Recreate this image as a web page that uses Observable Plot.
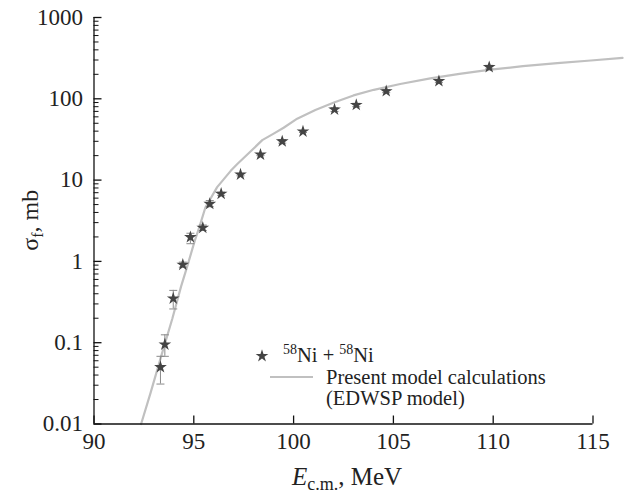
<!DOCTYPE html>
<html><head><meta charset="utf-8">
<script src="https://cdn.jsdelivr.net/npm/d3@7"></script>
<script src="https://cdn.jsdelivr.net/npm/@observablehq/plot@0.6"></script>
<style>body{margin:0;background:#fff} svg{display:block}</style>
</head><body><div id="chart"></div>
<script>
// Experimental data: 58Ni + 58Ni fission cross section
const expEnergy = [93.33, 93.55, 93.97, 94.45, 94.83, 95.45, 95.80, 96.37, 97.34, 98.34, 99.43, 100.47, 102.05, 103.14, 104.64, 107.28, 109.8];
const expSigma  = [0.050, 0.095, 0.35, 0.91, 1.99, 2.59, 5.1, 6.8, 11.7, 20.6, 29.9, 39.6, 73.8, 84, 124, 165, 245];
const expLow    = [0.031, 0.068, 0.26, 0.85, 1.65, 2.4, 4.7, 6.5, 11.3, 20.0, 28.5, 38.5, 70, 80, 119, 158, 233];
const expHigh   = [0.068, 0.125, 0.44, 0.98, 2.22, 2.8, 5.6, 7.1, 12.1, 21.2, 31.5, 40.7, 78, 88, 130, 173, 258];
// Model curve (EDWSP)
const modelEnergy = [92.36, 92.83, 93.43, 93.93, 94.36, 94.69, 95.05, 95.27, 95.58, 96.17, 96.85, 97.18, 97.80, 98.43, 98.98, 99.50, 100.18, 101.09, 102.02, 103.00, 104.02, 105.34, 106.85, 108.31, 109.87, 111.49, 113.21, 114.89, 116.48];
const modelSigma  = [0.01, 0.024, 0.077, 0.2, 0.49, 0.9, 1.8, 2.6, 4.6, 8.2, 13, 15.8, 22, 31, 37, 44, 57, 73, 90, 110, 129, 152, 178, 203, 228, 252, 274, 296, 318];
// Axes
const xTicks = [90, 95, 100, 105, 110, 115];
const xTickLabels = ["90", "95", "100", "105", "110", "115"];
const yTicks = [0.01, 0.1, 1, 10, 100, 1000];
const yTickLabels = ["0.01", "0.1", "1", "10", "100", "1000"];
const yMinorMultipliers = [2, 3, 4, 5, 6, 7, 8, 9];

const exp = expEnergy.map((e, i) => ({e, s: expSigma[i], lo: expLow[i], hi: expHigh[i]}));
const model = modelEnergy.map((e, i) => ({e, s: modelSigma[i]}));
const yMinor = [];
for (const d of yTicks.slice(0, -1)) for (const m of yMinorMultipliers) yMinor.push(d * m);

const W = 633, H = 493;
const mL = 93.5, mR = 40.5, mT = 17, mB = 69.5;
const plotW = W - mL - mR, plotH = H - mT - mB;
const FONT = "Liberation Serif, Times New Roman, serif";

const cap = {draw(ctx, size) { const w = Math.sqrt(size / Math.PI); ctx.moveTo(-w, 0); ctx.lineTo(w, 0); }};

const svg = Plot.plot({
  width: W, height: H,
  marginLeft: mL, marginRight: mR, marginTop: mT, marginBottom: mB,
  style: {fontFamily: FONT, fontSize: "23px", color: "#222", background: "#fff"},
  x: {domain: [90, 115]},
  y: {type: "log", domain: [0.01, 1000]},
  marks: [
    Plot.axisX({ticks: xTicks, tickSize: 0, tickPadding: 9, tickFormat: d => xTickLabels[xTicks.indexOf(d)], label: null, fontSize: 23}),
    Plot.axisY({ticks: yTicks, tickSize: 0, tickPadding: 11, tickFormat: d => yTickLabels[yTicks.indexOf(d)], label: null, fontSize: 23}),
    Plot.ruleX(xTicks, {x: d => d, insetTop: plotH - 8, stroke: "#111", strokeWidth: 1.3}),
    Plot.ruleY(yTicks, {y: d => d, insetRight: plotW - 8, stroke: "#111", strokeWidth: 1.3}),
    Plot.ruleY(yMinor, {y: d => d, insetRight: plotW - 5, stroke: "#111", strokeWidth: 1}),
    Plot.line(model, {x: "e", y: "s", stroke: "#c0c0c0", strokeWidth: 2.2}),
    Plot.ruleX(exp, {x: "e", y1: "lo", y2: "hi", stroke: "#8a8a8a", strokeWidth: 1}),
    Plot.dot(exp, {x: "e", y: "lo", symbol: cap, r: 4, fill: "none", stroke: "#8a8a8a", strokeWidth: 1}),
    Plot.dot(exp, {x: "e", y: "hi", symbol: cap, r: 4, fill: "none", stroke: "#8a8a8a", strokeWidth: 1}),
    Plot.dot(exp, {x: "e", y: "s", symbol: "star", r: 4, fill: "#444", stroke: "none"}),
    Plot.ruleX([90], {stroke: "#111", strokeWidth: 1.3}),
    Plot.ruleY([0.01], {stroke: "#111", strokeWidth: 1.3})
  ]
});
document.getElementById("chart").appendChild(svg);

const s = d3.select(svg);
// Y title
const yt = s.append("text").attr("transform", `translate(38,${mT + plotH / 2}) rotate(-90)`)
  .attr("text-anchor", "middle").attr("font-family", FONT).attr("font-size", 24).attr("fill", "#222");
yt.append("tspan").text("σ");
yt.append("tspan").attr("font-size", 16).attr("dy", 5).text("f");
yt.append("tspan").attr("dy", -5).text(", mb");
// X title
const xt = s.append("text").attr("x", 347).attr("y", 485)
  .attr("text-anchor", "middle").attr("font-family", FONT).attr("font-size", 25).attr("fill", "#222");
xt.append("tspan").attr("font-style", "italic").text("E");
xt.append("tspan").attr("font-size", 18).attr("dy", 5).text("c.m.");
xt.append("tspan").attr("dy", -5).text(", MeV");
// Legend
const lg = s.append("g").attr("font-family", FONT).attr("font-size", 20.5).attr("fill", "#222").attr("text-anchor", "start");
lg.append("path").attr("transform", "translate(262,356)").attr("d", d3.symbol(d3.symbolStar, Math.PI * 4 * 4)()).attr("fill", "#444");
const t1 = lg.append("text").attr("x", 283).attr("y", 362);
t1.append("tspan").attr("font-size", 14).attr("dy", -8).text("58");
t1.append("tspan").attr("dy", 8).text("Ni + ");
t1.append("tspan").attr("font-size", 14).attr("dy", -8).text("58");
t1.append("tspan").attr("dy", 8).text("Ni");
lg.append("line").attr("x1", 270).attr("x2", 313).attr("y1", 377).attr("y2", 377).attr("stroke", "#c0c0c0").attr("stroke-width", 2.2);
lg.append("text").attr("x", 326).attr("y", 384).text("Present model calculations");
lg.append("text").attr("x", 326).attr("y", 405).text("(EDWSP model)");
</script></body></html>
